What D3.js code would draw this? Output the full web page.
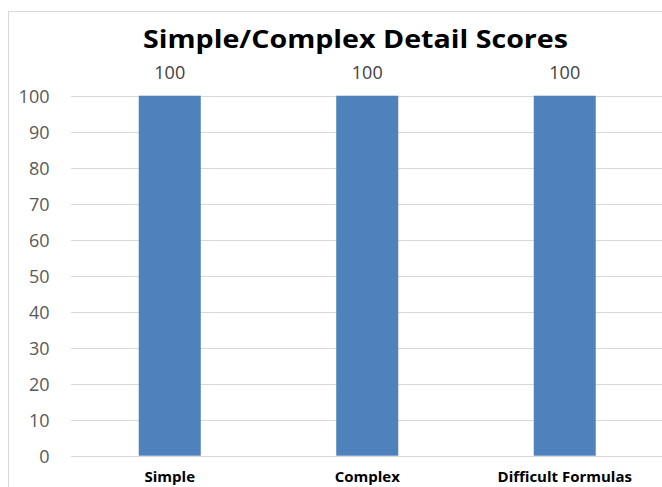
<!DOCTYPE html>
<html><head><meta charset="utf-8">
<script src="https://cdn.jsdelivr.net/npm/d3@7"></script>
<style>html,body{margin:0;padding:0;background:#fff;}svg{display:block;}</style>
</head><body>
<script>
const categories = ["Simple", "Complex", "Difficult Formulas"];
const scores = [100, 100, 100];
const yTicks = [0,10,20,30,40,50,60,70,80,90,100];
const title = "Simple/Complex Detail Scores";

const W = 662, H = 487;
const svg = d3.select("body").append("svg").attr("width", W).attr("height", H);
svg.append("rect").attr("width", W).attr("height", H).attr("fill", "#fff");
// chart area border
svg.append("rect").attr("x", 8.5).attr("y", 11.5).attr("width", 700).attr("height", 500)
  .attr("fill", "none").attr("stroke", "#d9d9d9").attr("stroke-width", 1);

const x = d3.scaleBand().domain(categories).range([71, 663.5]).paddingInner(0.686).paddingOuter(0.343);
const y = d3.scaleLinear().domain([0, 100]).range([455.7, 95.7]);

const font = "'Open Sans', 'Noto Sans', sans-serif";

// gridlines
svg.append("g").selectAll("line").data(yTicks).join("line")
  .attr("x1", 71).attr("x2", W).attr("y1", d => Math.round(y(d)) + 0.5).attr("y2", d => Math.round(y(d)) + 0.5)
  .attr("stroke", "#d9d9d9").attr("stroke-width", 1);

// y axis labels
const yAxis = d3.axisLeft(y).tickValues(yTicks).tickSize(0).tickPadding(0);
const ya = svg.append("g").attr("transform", "translate(49.5,0)").call(yAxis);
ya.select(".domain").remove();
ya.selectAll("text").attr("font-family", font).attr("font-size", 18).attr("fill", "#595959").attr("dy", "0.36em");

// bars
svg.append("g").selectAll("rect").data(categories).join("rect")
  .attr("x", d => x(d)).attr("width", x.bandwidth())
  .attr("y", (d, i) => y(scores[i])).attr("height", (d, i) => y(0) - y(scores[i]))
  .attr("fill", "#4f81bd");

// data labels
svg.append("g").selectAll("text").data(categories).join("text")
  .attr("x", d => x(d) + x.bandwidth() / 2).attr("y", (d, i) => y(scores[i]) - 16.5)
  .attr("text-anchor", "middle").attr("font-family", font).attr("font-size", 18).attr("fill", "#404040")
  .text((d, i) => scores[i]);

// x axis labels
const xAxis = d3.axisBottom(x).tickSize(0).tickPadding(0);
const xa = svg.append("g").attr("transform", "translate(0,481.5)").call(xAxis);
xa.select(".domain").remove();
xa.selectAll("text").attr("font-family", font).attr("font-size", 15).attr("font-weight", "bold").attr("fill", "#000").attr("dy", "0").attr("y", 0);

// title
svg.append("text").attr("x", 355.5).attr("y", 47.5).attr("text-anchor", "middle")
  .attr("font-family", font).attr("font-size", 25).attr("font-weight", "bold").attr("fill", "#000")
  .attr("textLength", 425).attr("lengthAdjust", "spacingAndGlyphs")
  .text(title);
</script>
</body></html>
